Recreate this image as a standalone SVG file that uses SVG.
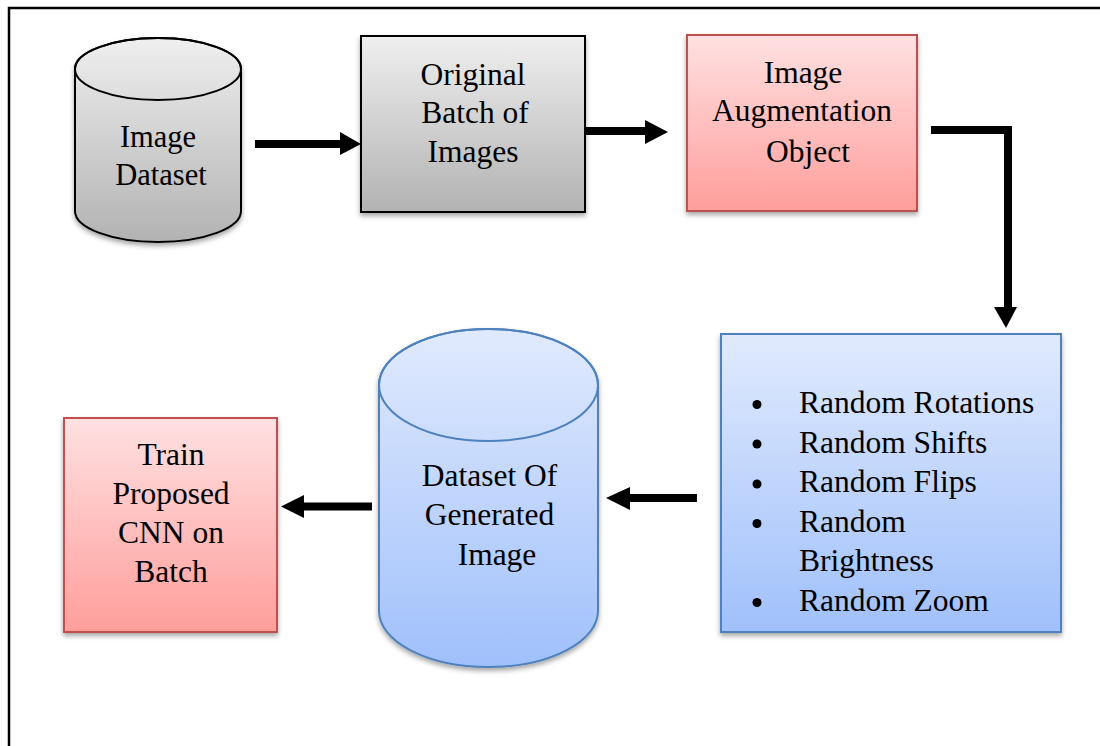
<svg xmlns="http://www.w3.org/2000/svg" width="1100" height="746" viewBox="0 0 1100 746">
  <defs>
    <linearGradient id="gGray" x1="0" y1="0" x2="0" y2="1">
      <stop offset="0" stop-color="#efefef"/>
      <stop offset="1" stop-color="#b2b2b2"/>
    </linearGradient>
    <linearGradient id="gRed" x1="0" y1="0" x2="0" y2="1">
      <stop offset="0" stop-color="#ffe1e2"/>
      <stop offset="1" stop-color="#fe9e9b"/>
    </linearGradient>
    <linearGradient id="gBlue" x1="0" y1="0" x2="0" y2="1">
      <stop offset="0" stop-color="#e0eafd"/>
      <stop offset="1" stop-color="#a0c0fb"/>
    </linearGradient>
    <filter id="shadow" x="-10%" y="-10%" width="120%" height="125%">
      <feDropShadow dx="0" dy="3" stdDeviation="2.5" flood-color="#000" flood-opacity="0.35"/>
    </filter>
  </defs>
  <style>
    text { font-family: "Liberation Serif", "Times New Roman", serif; font-size: 31.5px; fill: #000; }
    .mid { text-anchor: middle; }
    .grayShape { fill: url(#gGray); stroke: #000; stroke-width: 2; }
    .redShape { fill: url(#gRed); stroke: #c0504d; stroke-width: 2; }
    .blueShape { fill: url(#gBlue); stroke: #4f81bd; stroke-width: 2; }
    .rim { fill: none; }
    .shaft { fill: none; stroke: #000; stroke-width: 8; }
    .head { fill: #000; }
  </style>

  <rect width="1100" height="746" fill="#fff"/>

  <!-- outer frame, open to the right and bottom edges -->
  <path d="M9,760 V8 H1110" fill="none" stroke="#000" stroke-width="2.5"/>

  <g id="image-dataset">
    <g filter="url(#shadow)">
      <path class="grayShape" d="M75,69 A83,31 0 0 1 241,69 V211 A83,31 0 0 1 75,211 Z"/>
    </g>
    <ellipse class="grayShape rim" cx="158" cy="69" rx="83" ry="31"/>
    <text class="mid" x="158" y="147" style="font-size:30.5px">Image</text>
    <text class="mid" x="161" y="185" style="font-size:30.5px">Dataset</text>
  </g>

  <g id="original-batch">
    <rect class="grayShape" x="361" y="36" width="224" height="176" filter="url(#shadow)"/>
    <text class="mid" x="473" y="85">Original</text>
    <text class="mid" x="475" y="123">Batch of</text>
    <text class="mid" x="473" y="162">Images</text>
  </g>

  <g id="augmentation-object">
    <rect class="redShape" x="687" y="35" width="230" height="176" filter="url(#shadow)"/>
    <text class="mid" x="803" y="83">Image</text>
    <text class="mid" x="802" y="121">Augmentation</text>
    <text class="mid" x="808" y="162">Object</text>
  </g>

  <g id="augmentation-list">
    <rect class="blueShape" x="721" y="334" width="340" height="298" filter="url(#shadow)"/>
    <g fill="#000">
      <circle cx="757" cy="404.5" r="4.5"/>
      <circle cx="757" cy="444" r="4.5"/>
      <circle cx="757" cy="484" r="4.5"/>
      <circle cx="757" cy="523.5" r="4.5"/>
      <circle cx="757" cy="602.5" r="4.5"/>
    </g>
    <text x="799" y="413">Random Rotations</text>
    <text x="799" y="452.5">Random Shifts</text>
    <text x="799" y="492">Random Flips</text>
    <text x="799" y="531.5">Random</text>
    <text x="799" y="571">Brightness</text>
    <text x="799" y="610.5">Random Zoom</text>
  </g>

  <g id="generated-dataset">
    <g filter="url(#shadow)">
      <path class="blueShape" d="M379,385 A109.5,56 0 0 1 598,385 V611 A109.5,56 0 0 1 379,611 Z"/>
    </g>
    <ellipse class="blueShape rim" cx="488.5" cy="385" rx="109.5" ry="56"/>
    <text class="mid" x="489.5" y="486">Dataset Of</text>
    <text class="mid" x="489.5" y="525">Generated</text>
    <text class="mid" x="497" y="565">Image</text>
  </g>

  <g id="train-cnn">
    <rect class="redShape" x="64" y="418" width="213" height="214" filter="url(#shadow)"/>
    <text class="mid" x="171" y="465">Train</text>
    <text class="mid" x="171" y="504">Proposed</text>
    <text class="mid" x="171" y="543">CNN on</text>
    <text class="mid" x="171" y="582">Batch</text>
  </g>

  <g id="connectors">
    <!-- dataset to original batch -->
    <path class="shaft" d="M255,144 H342"/>
    <polygon class="head" points="340,132 361,144 340,155"/>
    <!-- original batch to augmentation object -->
    <path class="shaft" d="M585,131 H647"/>
    <polygon class="head" points="645,120 668,132 645,144"/>
    <!-- augmentation object down to the list -->
    <path class="shaft" d="M931,130 H1008 V309" stroke-linejoin="miter"/>
    <polygon class="head" points="994,307 1017,307 1006,328"/>
    <!-- list to generated dataset -->
    <path class="shaft" d="M697,498 H628"/>
    <polygon class="head" points="630,487 606,498 630,510"/>
    <!-- generated dataset to training -->
    <path class="shaft" d="M372,506.5 H302"/>
    <polygon class="head" points="304,495 281,506.5 304,518"/>
  </g>
</svg>
